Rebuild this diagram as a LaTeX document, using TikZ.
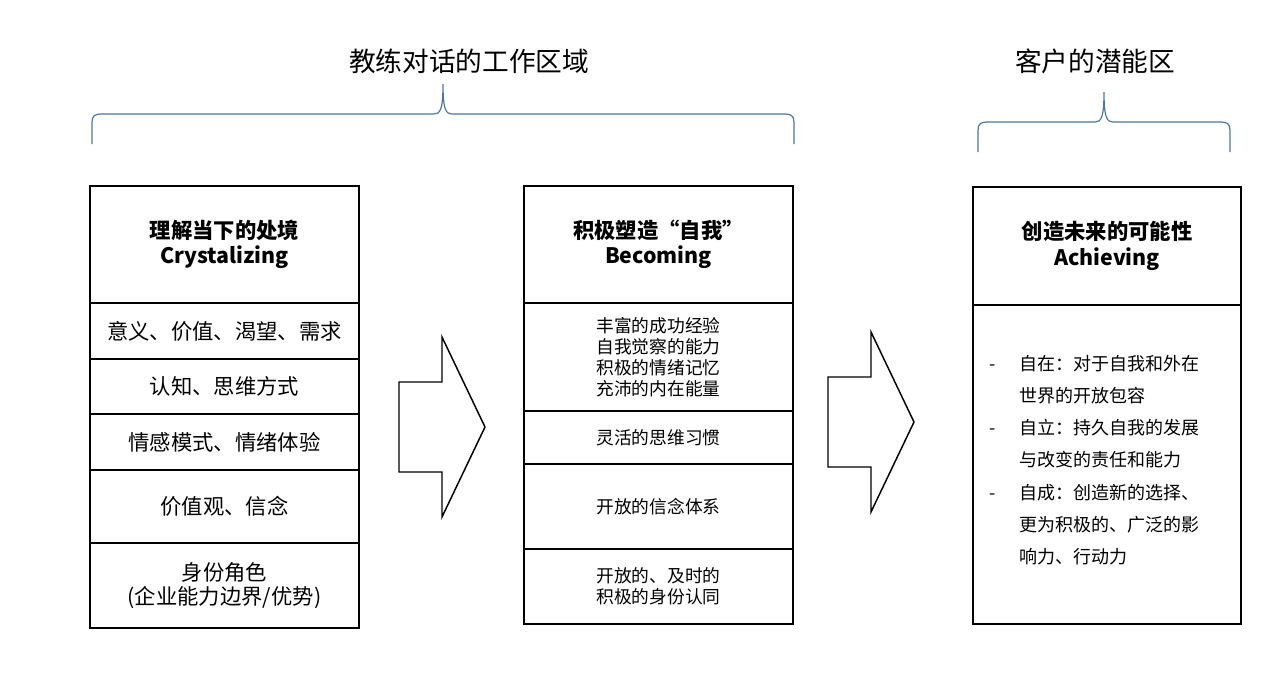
\documentclass[tikz,border=0pt]{standalone}
\usepackage{fontspec}
\setmainfont{Noto Sans CJK SC}
\usepackage{xcolor}
\usepackage{tikz}
\newdimen\px \px=0.75pt
\definecolor{bracecol}{RGB}{79,118,155}
\newcommand\listdash{\makebox[30\px][l]{-}}
\newcommand\listgap{\hspace*{30\px}}
\tikzset{
  zone title/.style={inner sep=0pt,font=\fontsize{20pt}{24pt}\selectfont},
  zone brace/.style={draw=bracecol,line width=0.9pt},
  cell/.style 2 args={draw,line width=1.5pt,inner sep=0pt,align=center,
    minimum width=#1*0.75pt,minimum height=#2*0.75pt,font=\fontsize{16pt}{18pt}\selectfont},
  head cell/.style 2 args={cell={#1}{#2},font=\fontsize{16pt}{19pt}\selectfont\bfseries},
  mid cell/.style 2 args={cell={#1}{#2},font=\fontsize{13.3pt}{15.6pt}\selectfont},
  list text/.style={inner sep=0pt,align=left,font=\fontsize{13.5pt}{24.2pt}\selectfont},
  block arrow/.style={draw,line width=1.1pt,fill=white,line join=miter}
}
\begin{document}
\begin{tikzpicture}[x=0.75pt,y=-0.75pt]
  \useasboundingbox (0,0) rectangle (1278,672);
  % zone titles and braces
  \node[zone title] (workzone) at (469,61) {教练对话的工作区域};
  \node[zone title] (potzone) at (1095,61) {客户的潜能区};
  \draw[zone brace] (92,144) -- (92,122) .. controls (92,116) and (95,114) .. (101,114)
    -- (434,114) .. controls (440,114) and (443,110) .. (443,84)
    .. controls (443,110) and (446,114) .. (452,114) -- (785,114)
    .. controls (791,114) and (794,116) .. (794,122) -- (794,144);
  \draw[zone brace] (978,152) -- (978,130) .. controls (978,124) and (981,122) .. (987,122)
    -- (1095,122) .. controls (1101,122) and (1104,118) .. (1104,92)
    .. controls (1104,118) and (1107,122) .. (1113,122) -- (1221,122)
    .. controls (1227,122) and (1230,124) .. (1230,130) -- (1230,152);
  % left column
  \node[head cell={269}{117}] (cryst) at (224.5,244.5) {理解当下的处境\\Crystalizing};
  \node[cell={269}{56}] (meaning) at (224.5,331) {意义、价值、渴望、需求};
  \node[cell={269}{55}] (cognition) at (224.5,386.5) {认知、思维方式};
  \node[cell={269}{56}] (emotion) at (224.5,442) {情感模式、情绪体验};
  \node[cell={269}{73}] (belief) at (224.5,506.5) {价值观、信念};
  \node[cell={269}{85}] (identity) at (224.5,585.5) {身份角色\\(企业能力边界/优势)};
  % middle column
  \node[head cell={269}{117}] (becom) at (658.5,244.5) {积极塑造“自我”\\Becoming};
  \node[mid cell={269}{108}] (resource) at (658.5,357) {丰富的成功经验\\自我觉察的能力\\积极的情绪记忆\\充沛的内在能量};
  \node[mid cell={269}{53}] (habit) at (658.5,437.5) {灵活的思维习惯};
  \node[mid cell={269}{85}] (openbelief) at (658.5,506.5) {开放的信念体系};
  \node[mid cell={269}{75}] (openid) at (658.5,586.5) {开放的、及时的\\积极的身份认同};
  % right column
  \node[head cell={268}{118}] (achiev) at (1107,246) {创造未来的可能性\\Achieving};
  \node[cell={268}{319}] (future) at (1107,464.5) {};
  \node[list text,anchor=west] (selves) at (989,460) {\listdash 自在：对于自我和外在\\
    \listgap 世界的开放包容\\
    \listdash 自立：持久自我的发展\\
    \listgap 与改变的责任和能力\\
    \listdash 自成：创造新的选择、\\
    \listgap 更为积极的、广泛的影\\
    \listgap 响力、行动力};
  % block arrows
  \foreach \ax/\ay in {399/427,828/422}
    \draw[block arrow] (\ax,\ay-45) -- ++(43,0) -- ++(0,-45) -- (\ax+86,\ay)
      -- (\ax+43,\ay+90) -- ++(0,-45) -- (\ax,\ay+45) -- cycle;
\end{tikzpicture}
\end{document}
